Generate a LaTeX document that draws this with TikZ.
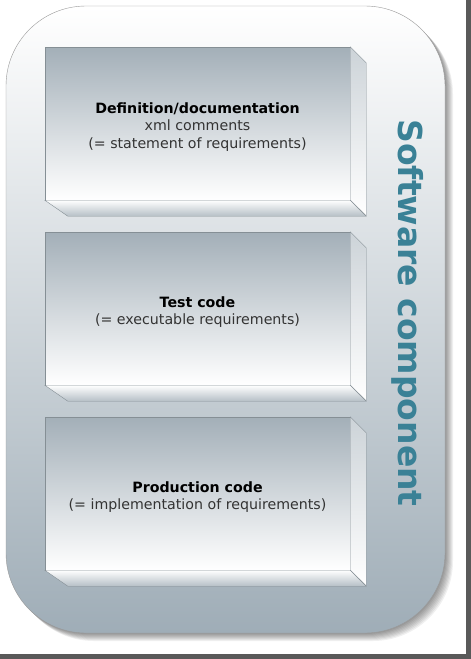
\documentclass[tikz,border=0pt]{standalone}
\usepackage{fontspec}
\setmainfont{DejaVu Sans}
\usetikzlibrary{positioning}
\definecolor{sgray}{HTML}{9FADB7}
\definecolor{fgray}{HTML}{A3AFB8}
\definecolor{edgegray}{HTML}{858F95}
\definecolor{steal}{HTML}{3A8196}
\tikzset{front/.style = {draw=edgegray, top color=fgray, bottom color=white,
                         minimum width=305pt, minimum height=153pt, inner sep=0pt},
         boxtext/.style = {align=center, text=black!80, font=\fontsize{14.2}{17.8}\selectfont},
         sideface/.style = {draw=edgegray, top color=fgray!55, bottom color=white},
         lowface/.style = {draw=edgegray, top color=white, bottom color=fgray!80}}
\begin{document}
\begin{tikzpicture}[x=1pt, y=-1pt]
    \useasboundingbox (0, 0) rectangle (471, 659);
    \fill [white] (0, 0) rectangle (471, 659);
    \fill [black!65] (466, 0) rectangle (471, 659);
    \fill [black!65] (0, 654) rectangle (471, 659);

    % soft shadow
    \foreach \s in {1,...,8}
      \fill [black, opacity=0.06, rounded corners=80pt] (6+\s, 6+\s) rectangle (445+\s, 633+\s);
    \shade [top color=white, middle color=sgray!50, bottom color=sgray, draw=black!40, rounded corners=80pt]
      (6, 6) rectangle (445, 633);

    \node [front] (def) at (197.5, 123.5) {};
    \node [front] (test) at (197.5, 308.5) {};
    \node [front] (prod) at (197.5, 493.5) {};

    \foreach \b in {def, test, prod} {
      \draw [sideface] (\b.north east) -- ++(16, 16) -- ++(0, 153) -- (\b.south east) -- cycle;
      \draw [lowface] (\b.south west) -- (\b.south east) -- ++(16, 16) -- ([shift={(23, 16)}]\b.south west) -- cycle;
    }

    \node [boxtext] (deftext) at ([yshift=-3.5pt]def.center) {\textbf{\color{black}Definition/documentation}\\xml comments\\(= statement of requirements)};
    \node [boxtext] (testtext) at ([yshift=-3.5pt]test.center) {\textbf{\color{black}Test code}\\(= executable requirements)};
    \node [boxtext] (prodtext) at ([yshift=-3.5pt]prod.center) {\textbf{\color{black}Production code}\\(= implementation of requirements)};

    \node [rotate=-90, text=steal, font=\fontsize{33}{34}\selectfont\bfseries] (comp) at (408, 313) {Software component};
  \end{tikzpicture}
\end{document}
